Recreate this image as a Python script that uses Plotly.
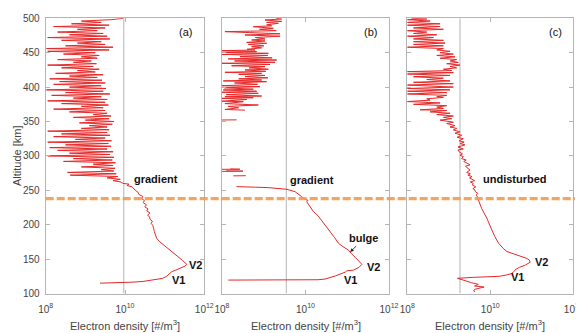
import plotly.graph_objects as go

# ---------------- data (log10 of electron density [#/m^3] vs altitude [km]) -------------
# Panel (a)
a_alt = [115.0, 115.3, 114.9, 115.4, 115.6, 116.5, 117.5, 119.5, 122, 125, 127, 129, 131.7, 134, 137, 140,
         142.4, 145, 148, 151, 155, 159, 163, 167, 171, 175, 180, 185, 190, 195, 199, 202, 205, 208, 211,
         214, 217, 220, 223, 226, 229, 232, 235, 238, 241, 244, 247, 250, 253, 255, 257, 259, 260,
         262, 264, 266, 268, 270, 272, 274, 276, 278, 280, 282, 284, 286, 288, 290, 292, 294, 296, 298,
         300, 302, 304, 306, 308, 310, 312, 314, 316, 318, 320, 322, 324, 326, 328, 330, 332, 334, 336,
         338, 340, 342, 344, 346, 348, 350, 352, 354, 356, 358, 360, 362, 364, 366, 368, 370, 372, 374,
         376, 378, 380, 382, 384, 386, 388, 390, 392, 394, 396, 398, 400, 402, 404, 406, 408, 410, 412,
         414, 416, 418, 420, 422, 424, 426, 428, 430, 432, 434, 436, 438, 440, 442, 444, 446, 448, 450,
         452, 454, 456, 458, 460, 462, 464, 466, 468, 470, 472, 474, 476, 478, 480, 482, 484, 486, 488,
         490, 492, 494, 496, 498, 500]
a_log_ne = [9.37, 9.55, 9.62, 9.66, 9.90, 10.20, 10.45, 10.70, 10.95, 11.05, 11.09, 11.12, 11.18, 11.28,
            11.42, 11.52, 11.56, 11.52, 11.45, 11.39, 11.30, 11.22, 11.13, 11.04, 10.95, 10.88, 10.80,
            10.76, 10.74, 10.72, 10.70, 10.66, 10.69, 10.63, 10.62, 10.57, 10.63, 10.55, 10.58, 10.50,
            10.54, 10.46, 10.49, 10.42, 10.45, 10.35, 10.33, 10.26, 10.21, 10.18, 10.05, 10.10, 9.95,
            9.90, 9.70, 9.88, 9.55, 9.82, 8.62, 9.78, 8.55, 9.72, 9.40, 9.75, 8.90, 9.70, 9.20, 9.76,
            8.45, 9.68, 8.70, 9.72, 8.05, 9.62, 8.60, 9.70, 8.30, 9.55, 8.10, 9.65, 8.50, 9.58, 8.05,
            9.66, 8.75, 9.50, 8.20, 9.62, 8.40, 9.55, 8.05, 9.60, 8.90, 9.55, 9.10, 9.68, 8.85, 9.72,
            9.00, 9.60, 8.70, 9.65, 9.20, 9.55, 8.60, 9.50, 8.20, 9.45, 8.90, 9.58, 8.40, 9.50, 8.05,
            9.55, 8.70, 9.40, 8.15, 9.62, 8.50, 9.45, 8.02, 9.52, 8.60, 9.40, 8.20, 9.50, 8.35, 9.42,
            8.10, 9.30, 8.60, 9.45, 8.25, 9.25, 8.80, 9.35, 8.40, 9.20, 8.05, 9.28, 8.70, 9.15, 8.30,
            9.30, 8.90, 9.35, 8.45, 9.25, 8.05, 9.60, 8.02, 9.70, 8.50, 9.50, 8.80, 9.40, 8.40, 9.62,
            8.05, 9.55, 8.60, 9.45, 8.30, 9.30, 8.80, 9.50, 8.20, 9.60, 8.65, 9.40, 8.90, 9.65, 9.96]

# Panel (b)  (None = data gap)
b_alt = [119.5, 119.6, 120, 121, 125.4, 131, 133, 134, 138, 142.4, 146, 152.6, 158, 163, 168, 173, 181,
         190, 198, 207, 213, 219, 226, 233.4, 235.5, 237, 240.7, 244, 248, 251.5, 253, 253.9, 254.5, 255.3,
         None, 271, 271.2, None, 277.5, 277.8, 278.3, None, 280.5, 280.6, 281, None, 352.2, 352.4, None,
         366.5, 367.5, 370, 372, 374, 376, 378.8, 379.5, 382, 383.7, 384.5, 386, 387, 389, 391, 392.5,
         394, 395.8, 397, 399, 400.6, 402, 404, 406, 407.9, 409, 410.3, 412, 413.5, 415.2, 417, 418.5,
         420, 421.5, 423, 424.9, 426, 428, 429.7, 431, 433, 434.6, 436, 438, 439.4, 441, 442.5, 444.2,
         446, 447.5, 449.1, 450.5, 451.5, 453, 453.9, 455, 457, 458.7, 460, 462, 463.6, 465, 467, 468.5,
         470, 472, 474, 475.7, 477.5, 480.6, 482, 484, 485.5, 487.8, 489, 490.5, 492.7, 494, 495.5,
         497.5, 499, 500]
b_log_ne = [8.15, 9.50, 10.30, 10.47, 10.71, 10.95, 10.99, 11.15, 11.28, 11.35, 11.30, 11.19, 11.10,
            11.03, 10.90, 10.79, 10.70, 10.59, 10.50, 10.39, 10.30, 10.19, 10.12, 10.03, 10.06, 9.98,
            9.91, 9.84, 9.75, 9.55, 9.30, 9.11, 8.80, 8.35,
            None, 8.27, 8.57, None, 8.00, 8.50, 8.10, None, 8.00, 8.43, 8.20, None, 8.00, 8.35, None,
            8.55, 8.07, 8.40, 8.15, 8.87, 8.07, 8.51, 8.00, 8.60, 8.00, 8.75, 8.07, 8.95, 8.10, 8.87,
            8.00, 8.83, 8.03, 8.75, 8.05, 8.91, 8.00, 8.85, 8.30, 9.07, 8.03, 8.95, 8.40, 9.10, 8.55,
            9.03, 8.40, 8.95, 8.07, 9.05, 8.55, 9.11, 8.65, 9.03, 8.23, 9.15, 8.00, 9.27, 8.30, 9.31,
            8.15, 9.20, 8.43, 9.10, 8.00, 9.11, 8.00, 8.83, 8.00, 8.79, 8.60, 8.95, 8.71, 9.00, 8.63,
            9.07, 8.59, 9.03, 8.71, 9.03, 8.80, 9.39, 8.55, 9.39, 8.07, 9.30, 8.90, 9.23, 8.75, 9.19,
            9.07, 9.35, 9.07, 9.43, 9.03, 9.43, 9.30]

# Panel (c)
c_alt = [102.6, 103.5, 106, 108, 109.4, 110.9, 113.3, 115.7, 118.2, 120.6, 122.1, 123.5, 124.3, 125,
         127, 129, 131.8, 135.2, 138, 141.5, 145.4, 148.8, 151, 153.6, 156, 158.4, 161, 165.7, 173,
         182.6, 192.3, 196, 200, 204.4, 208, 212, 216.5, 220, 223.8, 227, 231, 235, 238,
         240.7, 243, 245.5, 248, 250.4, 252.5, 255, 257.5, 260.1, 262, 264, 266, 268, 270, 272, 274, 276,
         279.5, 282, 285, 287, 289.2, 292, 294, 296, 299, 301, 303, 306, 308.6, 310, 313, 316, 318, 320,
         322, 325, 327, 330, 333, 335, 337.7, 340, 342, 344, 347, 349, 352, 354, 356, 358, 360, 362, 364,
         366, 367, 369, 371, 373, 375, 377, 379, 381, 383, 385, 386, 388, 390, 392, 394, 396, 398, 400,
         403, 405, 407, 409, 411, 413, 415, 417, 419, 421, 422.5, 424, 426, 428, 430, 432, 434, 436, 438,
         440, 442, 444, 446, 448, 450, 452, 454, 456, 458, 460, 462, 464, 466, 468, 470, 472, 474, 476,
         478, 480, 482, 484, 486, 488, 490, 492, 494, 496, 498, 499, 500]
c_log_ne = [9.63, 9.60, 9.62, 9.75, 9.85, 9.62, 9.71, 9.55, 9.43, 9.27, 9.21, 9.60, 10.00, 10.22,
            10.40, 10.52, 10.56, 10.62, 10.70, 10.85, 10.96, 10.94, 10.88, 10.75, 10.60, 10.52, 10.40,
            10.31, 10.20, 10.11, 10.03, 10.01, 9.97, 9.95, 9.93, 9.89, 9.85, 9.83, 9.79, 9.77, 9.74,
            9.72, 9.70,
            9.69, 9.66, 9.70, 9.64, 9.63, 9.58, 9.65, 9.57, 9.59, 9.52, 9.62, 9.55, 9.50, 9.56, 9.46,
            9.52, 9.43, 9.51, 9.45, 9.40, 9.51, 9.43, 9.36, 9.42, 9.31, 9.35, 9.27, 9.33, 9.25, 9.22,
            9.35, 9.22, 9.39, 9.27, 9.37, 9.25, 9.35, 9.20, 9.31, 9.15, 9.27, 9.11, 9.19, 9.03, 9.15,
            8.95, 9.11, 8.79, 9.07, 8.87, 9.11, 8.71, 9.03, 8.55, 8.95, 8.31, 8.87, 8.71, 8.95, 8.15,
            8.79, 8.00, 8.55, 8.47, 8.87, 8.71, 8.95, 8.00, 8.95, 8.00, 9.03, 8.00, 9.11, 8.00, 9.11,
            8.15, 9.03, 8.47, 8.87, 8.15, 9.03, 8.00, 9.11, 8.00, 9.07, 8.87, 9.19, 9.03, 9.27, 8.95,
            9.23, 9.03, 9.19, 8.79, 9.15, 8.71, 9.11, 8.79, 9.03, 8.71, 8.87, 8.00, 8.87, 8.15, 8.91,
            8.15, 8.87, 8.15, 8.63, 8.00, 8.71, 8.15, 8.47, 8.00, 8.87, 8.15, 8.79, 8.00, 8.79, 8.00,
            8.55, 8.00, 8.47, 8.10]

# reference density line of each panel, and the altitude of the dashed boundary
ref_log_ne = [9.97, 9.54, 9.27]
boundary_alt = [238]
panel_labels = ["(a)", "(b)", "(c)"]
x_tick_vals = [1e8, 1e10, 1e12]
x_tick_text = ["10<sup>8</sup>", "10<sup>10</sup>", "10<sup>12</sup>"]
y_tick_vals = [100, 150, 200, 250, 300, 350, 400, 450, 500]

# ---------------- figure -----------------
W, H = 584, 333
OFF = 8  # the page body adds an 8 px margin; compensate so the picture lines up
RED = "rgb(230,40,40)"
GRID = "#b4b4b4"
TXT = "#444444"
FONT = "Liberation Sans, Arial, sans-serif"

def fx(px):
    return (px - OFF) / W

def fy(py):
    return (H - py + OFF) / H

px_x = [(45.7, 204.3), (222.0, 389.0), (407.3, 573.3)]
y_dom = [fy(293.5), fy(18.3)]

fig = go.Figure()
profiles = [(a_alt, a_log_ne), (b_alt, b_log_ne), (c_alt, c_log_ne)]
for i, (alt, lg) in enumerate(profiles):
    sfx = "" if i == 0 else str(i + 1)
    ne = [None if v is None else 10 ** v for v in lg]
    fig.add_trace(go.Scatter(x=[10 ** ref_log_ne[i]] * 2, y=[100, 500], mode="lines",
                             line=dict(color=GRID, width=1), xaxis="x" + sfx, yaxis="y" + sfx,
                             hoverinfo="skip", showlegend=False))
    fig.add_trace(go.Scatter(x=ne, y=alt, mode="lines", line=dict(color=RED, width=1),
                             connectgaps=False, xaxis="x" + sfx, yaxis="y" + sfx, showlegend=False))

axis_common = dict(showline=True, linecolor=GRID, linewidth=1, mirror="ticks", ticks="inside",
                   ticklen=4, tickcolor=GRID, showgrid=False, zeroline=False, automargin=False,
                   tickfont=dict(family=FONT, size=10, color=TXT))
for i in range(3):
    sfx = "" if i == 0 else str(i + 1)
    x0, x1 = px_x[i]
    fig.layout["xaxis" + sfx] = dict(axis_common, type="log", range=[8, 12], domain=[fx(x0), fx(x1)],
                                     anchor="y" + sfx, tickvals=x_tick_vals, ticktext=x_tick_text,
                                     ticklabelstandoff=6)
    fig.layout["yaxis" + sfx] = dict(axis_common, range=[100, 500], domain=y_dom, anchor="x" + sfx,
                                     tickvals=y_tick_vals, showticklabels=(i == 0),
                                     ticklabelstandoff=3)

fig.add_shape(type="line", xref="paper", yref="y", x0=fx(45.7), x1=fx(575),
              y0=boundary_alt[0], y1=boundary_alt[0], layer="above",
              line=dict(color="rgba(240,155,75,0.9)", width=3.2, dash="8px,3px"))

ann = []
def txt(x, y, t, sfx, bold=True, size=11):
    ann.append(dict(x=x, y=y, xref="x" + sfx, yref="y" + sfx, text=("<b>%s</b>" % t) if bold else t,
                    showarrow=False, xanchor="center", yanchor="middle",
                    font=dict(family=FONT, size=size, color="#111111")))

txt(10.79, 266.4, "gradient", "")
txt(11.53, 480.5, panel_labels[0], "", bold=False)
txt(11.78, 141.4, "V2", "")
txt(11.36, 119.6, "V1", "")

txt(10.15, 265, "gradient", "2")
txt(11.55, 480.5, panel_labels[1], "2", bold=False)
txt(11.38, 180.2, "bulge", "2")
txt(11.64, 139, "V2", "2")
txt(11.07, 119.6, "V1", "2")
ann.append(dict(x=11.07, y=160.3, ax=11.25, ay=171, xref="x2", yref="y2", axref="x2", ayref="y2",
                text="", showarrow=True, arrowhead=2, arrowsize=0.8, arrowwidth=0.9, arrowcolor="#222"))

txt(10.60, 266.4, "undisturbed", "3")
txt(11.57, 480.5, panel_labels[2], "3", bold=False)
txt(11.24, 146.2, "V2", "3")
txt(10.65, 123.5, "V1", "3")

for i in range(3):
    x0, x1 = px_x[i]
    ann.append(dict(x=fx((x0 + x1) / 2), y=fy(325), xref="paper", yref="paper",
                    xanchor="center", yanchor="middle",
                    text="Electron density [#/m<sup>3</sup>]", showarrow=False,
                    font=dict(family=FONT, size=11, color=TXT)))
ann.append(dict(x=fx(17), y=fy(156), xref="paper", yref="paper", text="Altitude [km]",
                xanchor="center", yanchor="middle",
                textangle=-90, showarrow=False, font=dict(family=FONT, size=11, color=TXT)))

fig.update_layout(width=W, height=H, margin=dict(l=0, r=0, t=0, b=0), template="none",
                  paper_bgcolor="white", plot_bgcolor="white", showlegend=False, annotations=ann,
                  font=dict(family=FONT))
fig.write_html("out.html")
